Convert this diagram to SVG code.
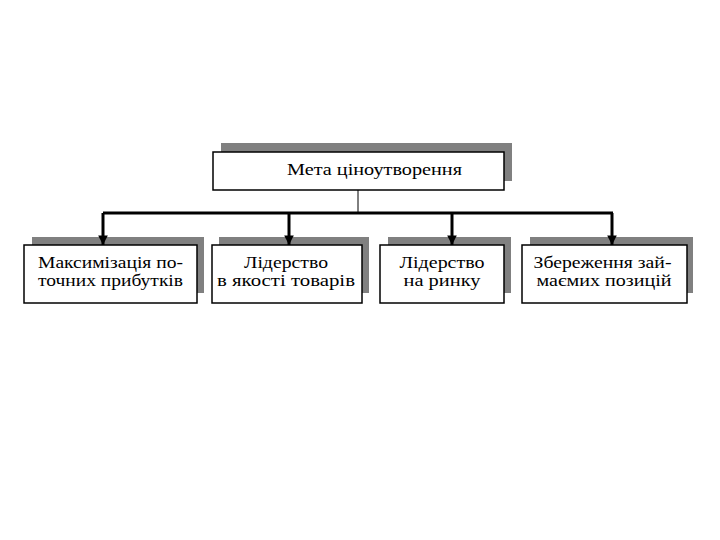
<svg xmlns="http://www.w3.org/2000/svg" width="720" height="540" viewBox="0 0 720 540">
<style>
.shadow{fill:#808080;stroke:none}
.box{fill:#fff;stroke:#000;stroke-width:1.5}
.t{font-family:"Liberation Serif","DejaVu Serif",serif;font-size:16px;fill:#000;text-anchor:middle}
.tt{font-size:17px}
.conn{stroke:#000;fill:none}
</style>
<defs>
<marker id="ah" viewBox="0 0 10 10" refX="10" refY="5" markerWidth="3.2" markerHeight="3.2" markerUnits="strokeWidth" orient="auto">
<path d="M0,0 L10,5 L0,10 Z" fill="#000"/>
</marker>
</defs>
<rect width="720" height="540" fill="#fff"/>
<g id="node-goal">
<rect class="shadow" x="221" y="143" width="291" height="38"/>
<rect class="box" x="213" y="152" width="291" height="38"/>
<text class="t tt" x="374.5" y="175" textLength="175" lengthAdjust="spacingAndGlyphs">Мета ціноутворення</text>
</g>
<g id="node-max">
<rect class="shadow" x="32" y="237" width="172" height="56"/>
<rect class="box" x="24" y="245" width="173" height="58"/>
<text class="t" x="110.5" y="268" textLength="145" lengthAdjust="spacingAndGlyphs">Максимізація по-</text>
<text class="t" x="110.5" y="286" textLength="145" lengthAdjust="spacingAndGlyphs">точних прибутків</text>
</g>
<g id="node-quality">
<rect class="shadow" x="219" y="237" width="150" height="56"/>
<rect class="box" x="212" y="245" width="150" height="58"/>
<text class="t" x="286" y="268" textLength="84" lengthAdjust="spacingAndGlyphs">Лідерство</text>
<text class="t" x="286" y="286" textLength="138" lengthAdjust="spacingAndGlyphs">в якості товарів</text>
</g>
<g id="node-market">
<rect class="shadow" x="388" y="237" width="123" height="56"/>
<rect class="box" x="380" y="245" width="124" height="58"/>
<text class="t" x="442" y="268" textLength="85" lengthAdjust="spacingAndGlyphs">Лідерство</text>
<text class="t" x="442" y="286" textLength="77" lengthAdjust="spacingAndGlyphs">на ринку</text>
</g>
<g id="node-keep">
<rect class="shadow" x="530" y="237" width="163" height="56"/>
<rect class="box" x="522" y="245" width="165" height="58"/>
<text class="t" x="602.5" y="268" textLength="138" lengthAdjust="spacingAndGlyphs">Збереження зай-</text>
<text class="t" x="604" y="286" textLength="135" lengthAdjust="spacingAndGlyphs">маємих позицій</text>
</g>
<g id="connectors">
<line class="conn" x1="358" y1="190" x2="358" y2="213" stroke-width="1"/>
<line class="conn" x1="103" y1="213" x2="613" y2="213" stroke-width="3"/>
<line class="conn" x1="103" y1="213" x2="103" y2="245" stroke-width="3" marker-end="url(#ah)"/>
<line class="conn" x1="289" y1="213" x2="289" y2="245" stroke-width="3" marker-end="url(#ah)"/>
<line class="conn" x1="452" y1="213" x2="452" y2="245" stroke-width="3" marker-end="url(#ah)"/>
<line class="conn" x1="612" y1="213" x2="612" y2="245" stroke-width="3" marker-end="url(#ah)"/>
</g>
</svg>
